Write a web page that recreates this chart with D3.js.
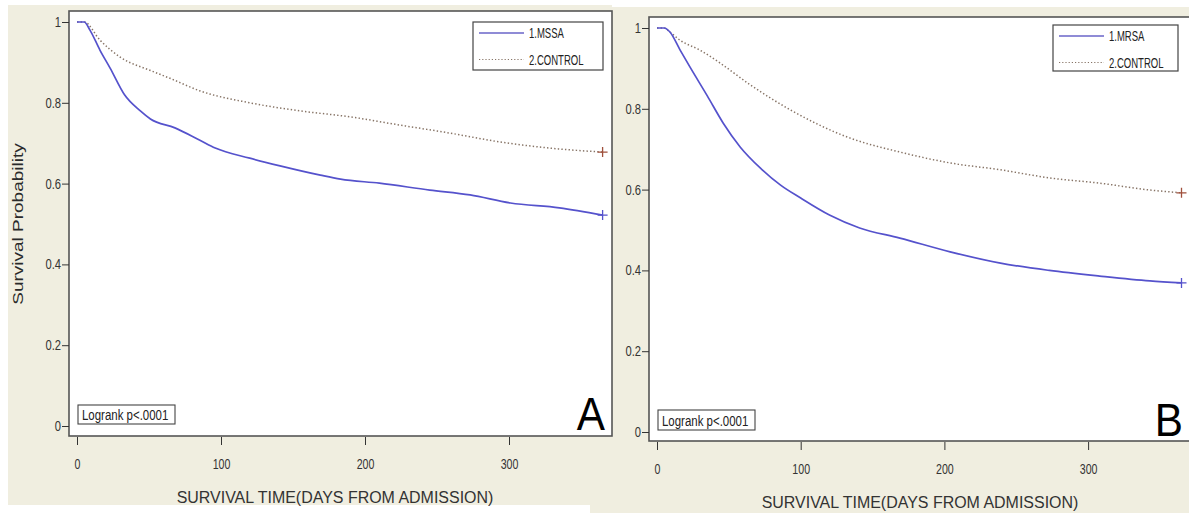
<!DOCTYPE html>
<html><head><meta charset="utf-8">
<script src="https://cdn.jsdelivr.net/npm/d3@7"></script>
<style>
body{margin:0;background:#fff}
svg{display:block}
text{font-family:"Liberation Sans",Arial,Helvetica,sans-serif}
</style>
</head><body>
<svg id="chart" width="1189" height="513"></svg>
<script>
// ---------- data ----------
const xTicks = [0, 100, 200, 300];
const yTicks = [0, 0.2, 0.4, 0.6, 0.8, 1];
const yTickLabels = ["0", "0.2", "0.4", "0.6", "0.8", "1"];

const mssaDays = [0, 5, 9, 16, 23, 33, 44, 51, 68, 85, 96, 120, 141, 169, 183, 210, 245, 273, 301, 335, 365];
const mssaSurv = [1, 1, 0.98, 0.93, 0.886, 0.82, 0.78, 0.76, 0.738, 0.708, 0.688, 0.663, 0.644, 0.621, 0.611, 0.601, 0.584, 0.572, 0.552, 0.540, 0.522];

const controlADays = [0, 5, 16, 30, 51, 65, 85, 120, 155, 190, 224, 259, 294, 328, 365];
const controlASurv = [1, 1, 0.955, 0.913, 0.88, 0.86, 0.83, 0.80, 0.78, 0.765, 0.745, 0.725, 0.703, 0.688, 0.678];

const mrsaDays = [0, 5, 9, 16, 23, 35, 46, 58, 72, 86, 100, 120, 141, 169, 204, 239, 273, 308, 343, 365];
const mrsaSurv = [1, 1, 0.99, 0.946, 0.903, 0.832, 0.765, 0.705, 0.653, 0.611, 0.579, 0.537, 0.505, 0.48, 0.446, 0.418, 0.40, 0.386, 0.374, 0.369];

const controlBDays = [0, 5, 9, 16, 30, 44, 65, 93, 134, 169, 204, 239, 273, 308, 343, 365];
const controlBSurv = [1, 1, 0.99, 0.97, 0.945, 0.913, 0.859, 0.797, 0.728, 0.693, 0.666, 0.649, 0.629, 0.616, 0.599, 0.592];

const legendA = ["1.MSSA", "2.CONTROL"];
const legendB = ["1.MRSA", "2.CONTROL"];
const pText = "Logrank p<.0001";
const xTitle = "SURVIVAL TIME(DAYS FROM ADMISSION)";
const yTitle = "Survival Probability";

// ---------- style ----------
const BEIGE = "#f0eee0";
const FRAME = "#555";
const INK = "#333";
const BLUE = "#5552cc";
const CTRL = "#877466";
const CENS = "#a0503c";
const SQ = 0.8; // horizontal squeeze of the original picture

const svg = d3.select("#chart");

// backgrounds
svg.append("rect").attr("x", 8).attr("y", 5).attr("width", 604).attr("height", 500).attr("fill", BEIGE);
svg.append("rect").attr("x", 590).attr("y", 7).attr("width", 600).attr("height", 506).attr("fill", BEIGE);

function drawPanel(p) {
  const g = svg.append("g");
  const f = p.frame;
  const x = d3.scaleLinear().domain([0, 365]).range(p.xRange);
  const y = d3.scaleLinear().domain([0, 1]).range(p.yRange);

  g.append("rect").attr("x", f.l).attr("y", f.t).attr("width", f.r - f.l).attr("height", f.b - f.t)
    .attr("fill", "#fff").attr("stroke", FRAME).attr("stroke-width", 1.6);

  // y axis
  const ya = g.append("g").attr("transform", `translate(${f.l},0)`)
    .call(d3.axisLeft(y).tickValues(yTicks).tickFormat((d, i) => yTickLabels[i]).tickSize(7).tickPadding(3));
  ya.select(".domain").remove();
  ya.selectAll("line").attr("stroke", INK);
  ya.selectAll("text").attr("fill", INK).attr("font-size", 14).attr("transform", `scale(${SQ},1)`);

  // x axis
  const xa = g.append("g").attr("transform", `translate(0,${f.b + 1})`)
    .call(d3.axisBottom(x).tickValues(xTicks).tickSize(8).tickPadding(14));
  xa.select(".domain").remove();
  xa.selectAll("line").attr("stroke", INK);
  xa.selectAll("text").attr("fill", INK).attr("font-size", 14).attr("transform", `scale(${SQ - 0.04},1)`);

  // curves
  const line = d3.line().x(d => x(d[0])).y(d => y(d[1])).curve(d3.curveMonotoneX);
  p.series.forEach(s => {
    const pts = s.days.map((d, i) => [d, s.surv[i]]);
    g.append("path").attr("d", line(pts)).attr("fill", "none")
      .attr("stroke", s.dotted ? CTRL : BLUE)
      .attr("stroke-width", s.dotted ? 1.5 : 1.7)
      .attr("stroke-dasharray", s.dotted ? "1.4,2.2" : null);
    const last = pts[pts.length - 1];
    const cx = x(last[0]), cy = y(last[1]);
    g.append("path").attr("d", `M${cx - 5},${cy}H${cx + 5}M${cx},${cy - 5}V${cy + 5}`)
      .attr("stroke", s.dotted ? CENS : BLUE).attr("stroke-width", 1.3);
  });

  // legend
  const L = p.legend;
  g.append("rect").attr("x", L.x).attr("y", L.y).attr("width", L.w).attr("height", L.h)
    .attr("fill", "#fff").attr("stroke", "#444").attr("stroke-width", 1.2);
  p.legendLabels.forEach((lab, i) => {
    const yy = L.y + 11 + i * 26.5;
    g.append("line").attr("x1", L.x + 6).attr("x2", L.x + 51).attr("y1", yy).attr("y2", yy)
      .attr("stroke", i === 0 ? "#6a64c8" : CTRL).attr("stroke-width", i === 0 ? 1.6 : 1.2)
      .attr("stroke-dasharray", i === 0 ? null : "1.2,2");
    g.append("text").attr("transform", `translate(${L.x + 56},${yy}) scale(0.68,1)`)
      .attr("dy", "0.36em").attr("font-size", 14).attr("fill", "#222").text(lab);
  });

  // logrank box
  const P = p.pbox;
  g.append("rect").attr("x", P.x).attr("y", P.y).attr("width", P.w).attr("height", P.h)
    .attr("fill", "#fff").attr("stroke", "#444").attr("stroke-width", 1.1);
  g.append("text").attr("transform", `translate(${P.x + 4},${P.y + P.h / 2}) scale(0.74,1)`)
    .attr("dy", "0.36em").attr("font-size", 15.5).attr("fill", "#222").text(pText);

  // panel letter
  g.append("text").attr("transform", `translate(${p.letter.x},${p.letter.y}) scale(0.92,1)`)
    .attr("text-anchor", "end").attr("font-size", 46).attr("fill", "#000").text(p.letter.t);

  // x title
  g.append("text").attr("transform", `translate(${p.xTitle.x},${p.xTitle.y}) scale(0.94,1)`)
    .attr("text-anchor", "middle").attr("font-size", 17).attr("fill", INK).text(xTitle);
}

drawPanel({
  frame: { l: 69, t: 11, r: 612, b: 436 },
  xRange: [77, 602.6], yRange: [426, 22],
  series: [
    { days: controlADays, surv: controlASurv, dotted: true },
    { days: mssaDays, surv: mssaSurv, dotted: false }
  ],
  legend: { x: 473, y: 22, w: 130, h: 48 },
  legendLabels: legendA,
  pbox: { x: 78, y: 405, w: 97, h: 19 },
  letter: { x: 605, y: 430, t: "A" },
  xTitle: { x: 335, y: 503 }
});

drawPanel({
  frame: { l: 649, t: 17, r: 1196, b: 441 },
  xRange: [657, 1181.5], yRange: [432, 28],
  series: [
    { days: controlBDays, surv: controlBSurv, dotted: true },
    { days: mrsaDays, surv: mrsaSurv, dotted: false }
  ],
  legend: { x: 1053, y: 25, w: 125, h: 46 },
  legendLabels: legendB,
  pbox: { x: 658, y: 410, w: 97, h: 20 },
  letter: { x: 1183, y: 436, t: "B" },
  xTitle: { x: 920, y: 508 }
});

// y title (panel A only)
svg.append("text").attr("transform", `translate(23,224) scale(0.76,1) rotate(-90)`)
  .attr("text-anchor", "middle").attr("font-size", 19).attr("fill", "#2a2a2a").text(yTitle);
</script>
</body></html>
